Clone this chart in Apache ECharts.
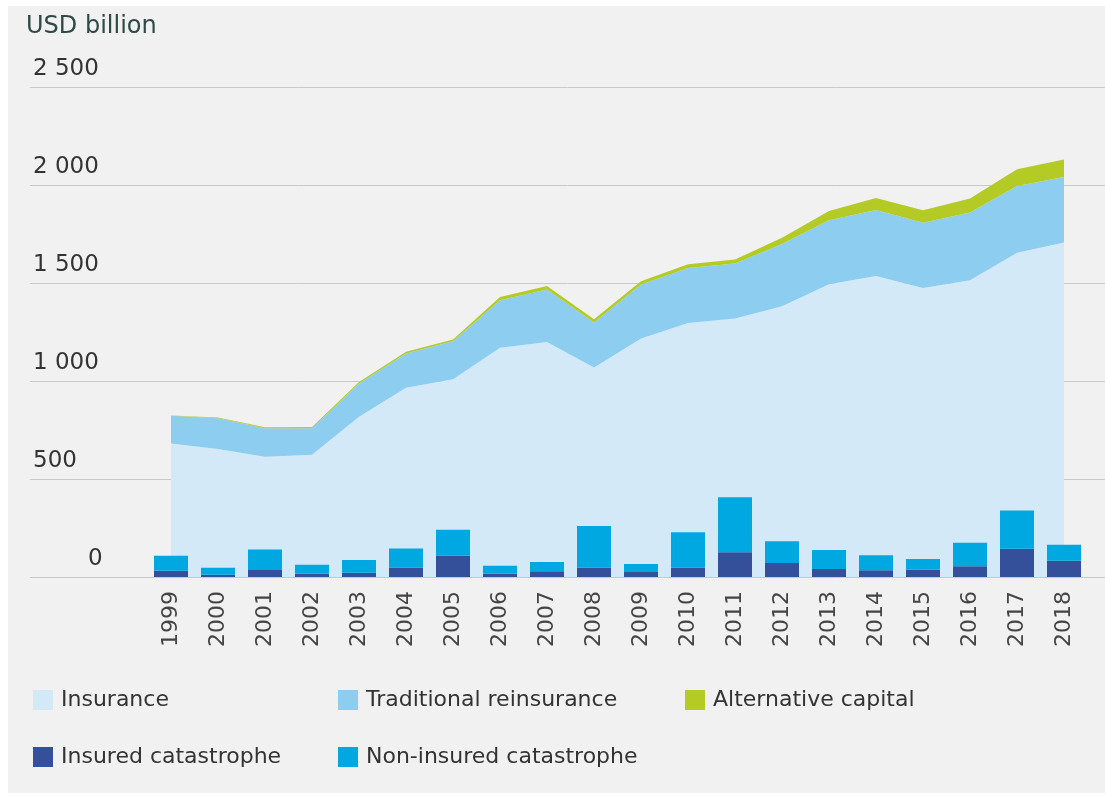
<!DOCTYPE html>
<html>
<head>
<meta charset="utf-8">
<script src="https://cdn.jsdelivr.net/npm/echarts@6/dist/echarts.min.js"></script>
<style>
  html, body { margin: 0; padding: 0; background: #ffffff; }
  #chart { width: 1105px; height: 802px; }
</style>
</head>
<body>
<div id="chart"></div>
<script>
// ---- Data (USD billion) ----
const years = ['1999','2000','2001','2002','2003','2004','2005','2006','2007','2008',
               '2009','2010','2011','2012','2013','2014','2015','2016','2017','2018'];
const insurance     = [682, 653, 614, 624, 818, 966, 1010, 1170, 1200, 1070, 1218, 1297, 1320, 1382, 1495, 1537, 1476, 1515, 1655, 1708];
const tradReins     = [141, 157, 145, 136, 170, 175, 194, 243, 268, 229, 275, 280, 280, 318, 326, 337, 332, 346, 341, 334];
const altCapital    = [2, 4, 5, 6, 8, 9, 9, 17, 18, 17, 17, 20, 21, 32, 48, 61, 64, 71, 86, 89];
const insuredCat    = [32, 12, 36, 17, 22, 49, 109, 17, 29, 49, 26, 49, 126, 71, 41, 34, 37, 55, 144, 83];
const nonInsuredCat = [77, 35, 105, 46, 65, 97, 132, 41, 48, 211, 40, 179, 281, 111, 97, 77, 55, 120, 196, 82];
const yTickValues = [0, 500, 1000, 1500, 2000, 2500];
const yTickLabels = ['0', '500', '1 000', '1 500', '2 000', '2 500'];
const seriesNames = ['Insurance', 'Traditional reinsurance', 'Alternative capital', 'Insured catastrophe', 'Non-insured catastrophe'];

const colors = {
  ins: '#d3e9f7', trad: '#8ccdf0', alt: '#b5cb25', cat: '#35509a', noncat: '#00a8e1'
};
const FONT = 'DejaVu Sans';

const chart = echarts.init(document.getElementById('chart'), null, { renderer: 'canvas' });

function areaSeries(name, data, color) {
  return {
    name: name, type: 'line', xAxisIndex: 1, yAxisIndex: 1, stack: 'capital',
    data: data, symbol: 'none', showSymbol: false, smooth: false,
    color: color,
    itemStyle: { color: color },
    lineStyle: { width: 0, color: color },
    areaStyle: { color: color, opacity: 1 },
    z: 2, silent: true
  };
}
function barSeries(name, data, color) {
  return {
    name: name, type: 'bar', xAxisIndex: 1, yAxisIndex: 1, stack: 'cat',
    data: data, barWidth: 34, color: color,
    itemStyle: { color: color },
    z: 3, silent: true
  };
}
function legendAt(name, left, top) {
  return {
    data: [name], left: left, top: top, padding: 0, itemGap: 0,
    itemWidth: 20, itemHeight: 20, icon: 'rect', selectedMode: false,
    textStyle: { fontFamily: FONT, fontSize: 22, color: '#333333', lineHeight: 20, padding: [0, 0, 0, 3] }
  };
}

const option = {
  backgroundColor: '#ffffff',
  animation: false,
  graphic: [{
    type: 'rect', z: -100, silent: true,
    shape: { x: 8, y: 6, width: 1097, height: 787 },
    style: { fill: '#f1f1f1' }
  }],
  title: {
    text: 'USD billion', left: 26, top: 15, padding: 0,
    textStyle: { fontFamily: FONT, fontSize: 24, fontWeight: 'normal', color: '#2f4a44' }
  },
  legend: [
    legendAt(seriesNames[0], 33, 689),
    legendAt(seriesNames[1], 338, 689),
    legendAt(seriesNames[2], 685, 689),
    legendAt(seriesNames[3], 33, 746),
    legendAt(seriesNames[4], 338, 746)
  ],
  grid: [
    { left: 30, right: 0, top: 87.3, bottom: 225 },
    { left: 171, right: 41, top: 87.3, bottom: 225 }
  ],
  xAxis: [
    { gridIndex: 0, type: 'value', min: 0, max: 1, show: false },
    {
      gridIndex: 1, type: 'category', data: years, boundaryGap: false,
      axisLine: { show: false }, axisTick: { show: false }, splitLine: { show: false },
      axisLabel: { rotate: 90, margin: 14, fontFamily: FONT, fontSize: 22, color: '#444444', interval: 0 }
    }
  ],
  yAxis: [
    {
      gridIndex: 0, type: 'value', min: 0, max: 2500, interval: 500,
      axisLine: { show: false }, axisTick: { show: false },
      splitLine: { show: true, lineStyle: { color: '#c9c9c9', width: 1 } },
      axisLabel: {
        inside: true, margin: 3, align: 'left', verticalAlign: 'bottom',
        fontFamily: FONT, fontSize: 23, color: '#333333', lineHeight: 24, padding: [0, 0, 6, 0],
        formatter: function (v) {
          const s = yTickLabels[yTickValues.indexOf(v)];
          return v === 0 ? '{z|' + s + '}' : s;
        },
        rich: { z: { fontFamily: FONT, fontSize: 23, color: '#333333', lineHeight: 24, padding: [0, 0, 0, 55] } }
      },
      z: 0
    },
    { gridIndex: 1, type: 'value', min: 0, max: 2500, interval: 500, show: false, splitLine: { show: false } }
  ],
  series: [
    areaSeries(seriesNames[0], insurance, colors.ins),
    areaSeries(seriesNames[1], tradReins, colors.trad),
    areaSeries(seriesNames[2], altCapital, colors.alt),
    barSeries(seriesNames[3], insuredCat, colors.cat),
    barSeries(seriesNames[4], nonInsuredCat, colors.noncat)
  ]
};
chart.setOption(option);
</script>
</body>
</html>
